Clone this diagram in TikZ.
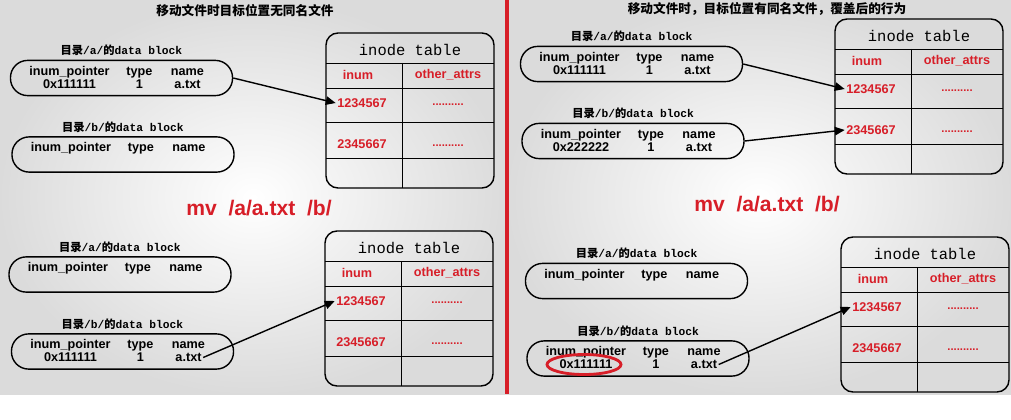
\documentclass[tikz,border=0pt]{standalone}
\usepackage{fontspec}
\setmainfont{Liberation Sans}
\setmonofont{Liberation Mono}
\newfontfamily\cjk{Noto Sans CJK SC}
\usetikzlibrary{arrows.meta, calc, positioning, shapes.geometric}

\definecolor{tabred}{RGB}{215,30,40}

% directory data block: pill, label above and the header row
\newcommand{\dirblock}[3]{%
  \node[pill] (#1) at (#2) {};
  \node[dirlabel, above=1.5pt of #1] (#1label) {{\cjk 目录}/#3/{\cjk 的}data block};
  \node[entry] (#1ptrhead) at ($(#1)+(-52,-7)$) {inum\_pointer};
  \node[entry] (#1typehead) at ($(#1)+(18,-7)$) {type};
  \node[entry] (#1namehead) at ($(#1)+(66,-7)$) {name};
}
% one entry in a data block
\newcommand{\direntry}[4]{%
  \node[entry] (#1ptr) at ($(#1)+(-52,6)$) {#2};
  \node[entry] (#1type) at ($(#1)+(18,6)$) {#3};
  \node[entry] (#1file) at ($(#1)+(66,6)$) {#4};
}
% inode table, #2 is its top left corner
\newcommand{\inodetable}[2]{%
  \coordinate (#1) at (#2);
  \draw[tablebox] (#1) rectangle ++(168,155);
  \foreach \dy in {30,55,89,125}
    \draw[tableline] ($(#1)+(0,\dy)$) -- ++(168,0);
  \draw[tableline] ($(#1)+(76,30)$) -- ++(0,125);
  \node[tabletitle] (#1title) at ($(#1)+(84,17)$) {inode table};
  \node[tablehead] (#1inum) at ($(#1)+(32,42)$) {inum};
  \node[tablehead] (#1attrs) at ($(#1)+(122,42)$) {other\_attrs};
  \node[tablecell] (#1r1) at ($(#1)+(36,70)$) {1234567};
  \node[tabledots] (#1d1) at ($(#1)+(122,72)$) {..........};
  \node[tablecell] (#1r2) at ($(#1)+(36,111)$) {2345667};
  \node[tabledots] (#1d2) at ($(#1)+(122,113)$) {..........};
}

\begin{document}
\begin{tikzpicture}[
x=0.025cm, y=-0.025cm,
pill/.style = {draw, line width=1pt, rounded corners=0.43cm, minimum width=5.55cm, minimum height=0.88cm},
dirlabel/.style = {font=\fontsize{8}{9}\selectfont\ttfamily\bfseries, inner sep=1pt},
entry/.style = {font=\fontsize{9}{10}\selectfont\bfseries, inner sep=1pt, text height=1.6ex, text depth=0.4ex},
tablebox/.style = {draw, line width=1pt, rounded corners=0.3cm},
tableline/.style = {line width=0.6pt},
tabletitle/.style = {font=\fontsize{11}{12}\selectfont\ttfamily},
tablehead/.style = {text=tabred, font=\fontsize{9}{10}\selectfont\bfseries},
tablecell/.style = {text=tabred, font=\fontsize{9}{10}\selectfont\bfseries, inner sep=1pt},
tabledots/.style = {text=tabred, font=\fontsize{8}{9}\selectfont\bfseries},
title/.style = {font=\fontsize{9}{10}\selectfont\cjk\bfseries},
command/.style = {text=tabred, font=\fontsize{15}{16}\selectfont\bfseries},
ptr/.style = {-{Triangle[length=7pt,width=6pt]}, line width=1pt},
ring/.style = {draw=tabred, line width=2pt, ellipse, minimum width=1.85cm, minimum height=0.5cm},
]

\useasboundingbox (0,0) rectangle (1011,420);
\fill[white] (0,0) rectangle (1011,420);
\shade[inner color=white, outer color=gray!28] (0,0) rectangle (507,394);
\shade[inner color=white, outer color=gray!28] (507,0) rectangle (1011,394);
\draw[tabred, line width=2.5pt] (507,0) -- (507,394);

% left: no file of the same name in /b/
\node[title] (titleL) at (245,11) {移动文件时目标位置无同名文件};
\node[command] (cmdL) at (259,208) {mv\ \ /a/a.txt\ \ /b/};

\dirblock{LA1}{121.5,78}{a}
\direntry{LA1}{0x111111}{1}{a.txt}
\dirblock{LB1}{123,154.5}{b}
\inodetable{LT1}{326,33}

\dirblock{LA2}{120,274.5}{a}
\dirblock{LB2}{122.5,351.5}{b}
\direntry{LB2}{0x111111}{1}{a.txt}
\inodetable{LT2}{325,231}

\draw[ptr] (LA1.east) -- (LT1r1.west);
\draw[ptr] (LB2file.east) -- (LT2r1.west);

% right: /b/ already has a.txt, overwritten
\node[title] (titleR) at (767,9) {移动文件时，目标位置有同名文件，覆盖后的行为};
\node[command] (cmdR) at (767,204) {mv\ \ /a/a.txt\ \ /b/};

\dirblock{RA1}{631.5,64}{a}
\direntry{RA1}{0x111111}{1}{a.txt}
\dirblock{RB1}{633,141}{b}
\direntry{RB1}{0x222222}{1}{a.txt}
\inodetable{RT1}{835,19}

\dirblock{RA2}{636.5,281}{a}
\dirblock{RB2}{638,358.5}{b}
\direntry{RB2}{0x111111}{1}{a.txt}
\inodetable{RT2}{841,237}

\node[ring] (ring) at ($(RB2ptr)+(-2,0)$) {};

\draw[ptr] (RA1.east) -- (RT1r1.west);
\draw[ptr] (RB1.east) -- (RT1r2.west);
\draw[ptr] (RB2file.east) -- (RT2r1.west);

\end{tikzpicture}
\end{document}
